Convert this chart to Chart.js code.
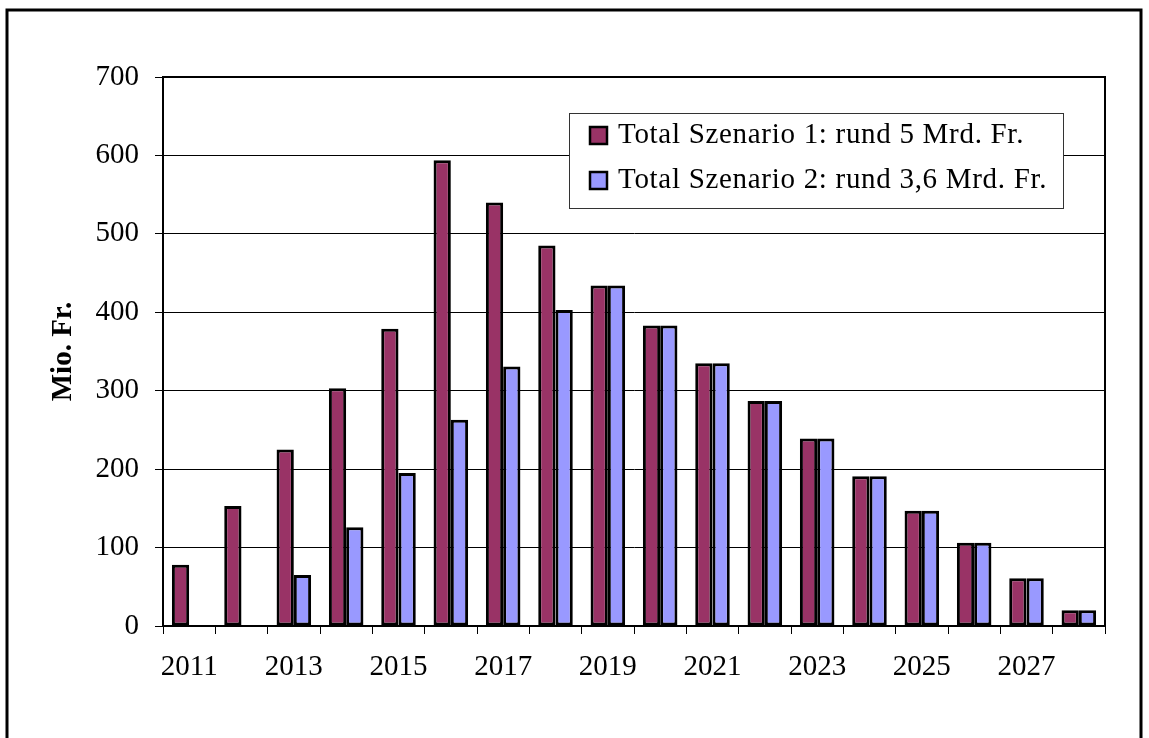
<!DOCTYPE html>
<html>
<head>
<meta charset="utf-8">
<script src="https://cdn.jsdelivr.net/npm/chart.js@4"></script>
<style>
  html, body { margin: 0; padding: 0; background: #fff; overflow: hidden; }
  canvas { display: block; }
</style>
</head>
<body>
<canvas id="bar-chart" width="1149" height="738"></canvas>
<script>
// data
var years = ['2011','2012','2013','2014','2015','2016','2017','2018','2019','2020',
             '2021','2022','2023','2024','2025','2026','2027','2028'];
var szenario1 = [78, 153, 225, 303, 379, 594, 540, 485, 434, 383, 335, 287, 239, 191, 147, 106, 61, 20];
var szenario2 = [0, 0, 65, 126, 195, 263, 331, 403, 434, 383, 335, 287, 239, 191, 147, 106, 61, 20];
var seriesNames = ['Total Szenario 1: rund 5 Mrd. Fr.', 'Total Szenario 2: rund 3,6 Mrd. Fr.'];
var yTicks = [0, 100, 200, 300, 400, 500, 600, 700];

var serif = "'Liberation Serif', 'Times New Roman', serif";

// frame, plot outline and the boxed legend
var extras = {
  id: 'extras',
  afterDatasetsDraw: function (chart) {
    var ctx = chart.ctx, a = chart.chartArea;
    ctx.save();
    ctx.strokeStyle = '#000';
    ctx.lineWidth = 2;
    ctx.strokeRect(a.left, a.top, a.right - a.left, a.bottom - a.top);

    // legend box
    var bx = 569, by = 113, bw = 494, bh = 95;
    ctx.fillStyle = '#fff';
    ctx.fillRect(bx, by, bw, bh);
    ctx.lineWidth = 1;
    ctx.strokeStyle = '#333';
    ctx.strokeRect(bx + 0.5, by + 0.5, bw, bh);
    ctx.font = '29px ' + serif;
    ctx.letterSpacing = '0.7px';
    ctx.textBaseline = 'middle';
    chart.data.datasets.forEach(function (ds, i) {
      var cy = 135 + i * 45;
      ctx.fillStyle = ds.backgroundColor;
      ctx.fillRect(590, cy - 8, 17, 17);
      ctx.lineWidth = 2.5;
      ctx.strokeStyle = '#000';
      ctx.strokeRect(590, cy - 8, 17, 17);
      ctx.fillStyle = '#000';
      ctx.fillText(ds.label, 618, cy);
    });

    // outer frame
    ctx.lineWidth = 3;
    ctx.strokeStyle = '#000';
    ctx.beginPath();
    ctx.moveTo(7, 740);
    ctx.lineTo(7, 10);
    ctx.lineTo(1141, 10);
    ctx.lineTo(1141, 740);
    ctx.stroke();
    ctx.restore();
  }
};

new Chart(document.getElementById('bar-chart').getContext('2d'), {
  type: 'bar',
  data: {
    labels: years,
    datasets: [{
      label: seriesNames[0],
      data: szenario1,
      backgroundColor: '#993366',
      borderColor: '#000',
      borderWidth: 3,
      borderSkipped: false
    }, {
      label: seriesNames[1],
      data: szenario2,
      backgroundColor: '#9999FF',
      borderColor: '#000',
      borderWidth: 3,
      borderSkipped: false
    }]
  },
  options: {
    responsive: false,
    animation: false,
    devicePixelRatio: 1,
    layout: { padding: { left: 10, top: 77, right: 44, bottom: 0 } },
    datasets: { bar: { categoryPercentage: 0.66, barPercentage: 1 } },
    plugins: {
      legend: { display: false },
      tooltip: { enabled: false }
    },
    scales: {
      x: {
        grid: { drawOnChartArea: false, color: '#000', tickLength: 8, offset: true },
        border: { color: '#000', width: 2 },
        ticks: {
          color: '#000',
          font: { family: serif, size: 29 },
          padding: 16,
          maxRotation: 0,
          autoSkip: false,
          callback: function (v, i) { return i % 2 === 0 ? years[i] : ''; }
        },
        afterFit: function (s) { s.height = 738 - 626; }
      },
      y: {
        min: 0,
        max: 700,
        afterBuildTicks: function (s) { s.ticks = yTicks.map(function (v) { return { value: v }; }); },
        grid: { color: '#000', lineWidth: 1, tickLength: 8 },
        border: { color: '#000', width: 2 },
        ticks: {
          color: '#000',
          font: { family: serif, size: 29 },
          padding: 16
        },
        title: {
          display: true,
          text: 'Mio. Fr.',
          color: '#000',
          font: { family: serif, size: 29, weight: 'bold' },
          padding: { top: 36, bottom: 0 }
        },
        afterFit: function (s) { s.width = 153; }
      }
    }
  },
  plugins: [extras]
});
</script>
</body>
</html>
